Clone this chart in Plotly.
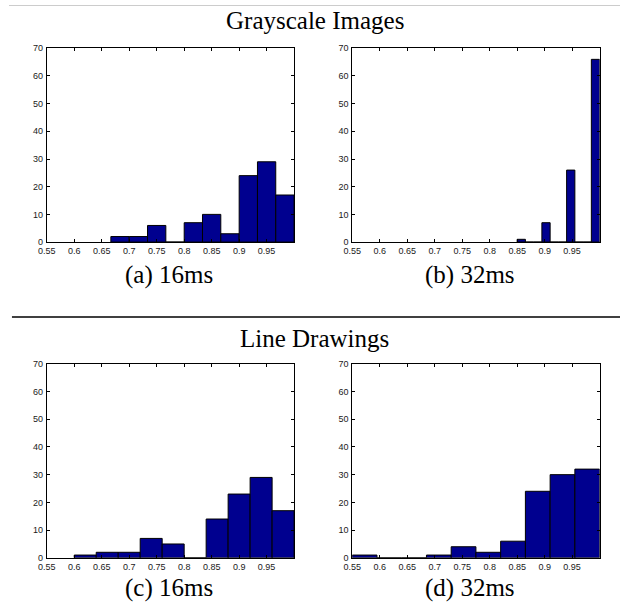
import plotly.graph_objects as go

# ---- data (histogram bin centres, bin widths, counts) ----
a_centers = [0.6833, 0.7167, 0.75, 0.7833, 0.8167, 0.85, 0.8833, 0.9167, 0.95, 0.9833]
a_width = 0.0333
a_counts = [2, 2, 6, 0, 7, 10, 3, 24, 29, 17]

b_centers = [0.8575, 0.8725, 0.8875, 0.9025, 0.9175, 0.9325, 0.9475, 0.9625, 0.9775, 0.9925]
b_width = 0.015
b_counts = [1, 0, 0, 7, 0, 0, 26, 0, 0, 66]

c_centers = [0.62, 0.66, 0.70, 0.74, 0.78, 0.82, 0.86, 0.90, 0.94, 0.98]
c_width = 0.04
c_counts = [1, 2, 2, 7, 5, 0, 14, 23, 29, 17]

d_centers = [0.5725, 0.6175, 0.6625, 0.7075, 0.7525, 0.7975, 0.8425, 0.8875, 0.9325, 0.9775]
d_width = 0.045
d_counts = [1, 0, 0, 1, 4, 2, 6, 24, 30, 32]

x_ticks = [0.55, 0.6, 0.65, 0.7, 0.75, 0.8, 0.85, 0.9, 0.95]
x_tick_labels = ["0.55", "0.6", "0.65", "0.7", "0.75", "0.8", "0.85", "0.9", "0.95"]
y_ticks = [0, 10, 20, 30, 40, 50, 60, 70]

section_titles = ["Grayscale Images", "Line Drawings"]
captions = ["(a) 16ms", "(b) 32ms", "(c) 16ms", "(d) 32ms"]

# ---- layout geometry ----
W, H = 620, 613
def py(px):
    return 1 - px / H
def pxx(px):
    return px / W

panels = [
    (a_centers, a_width, a_counts, (38.3, 289.3), (44, 241)),
    (b_centers, b_width, b_counts, (348.3, 599.3), (44, 241)),
    (c_centers, c_width, c_counts, (38.3, 289.3), (364.7, 562)),
    (d_centers, d_width, d_counts, (348.3, 599.3), (364.7, 562)),
]

BAR_COLOR = "#00008F"
fig = go.Figure()
layout = dict(
    width=W, height=H,
    margin=dict(l=0, r=0, t=0, b=0),
    paper_bgcolor="white", plot_bgcolor="white",
    showlegend=False,
)
tick_font = dict(family="Liberation Sans, Arial, sans-serif", size=9, color="#1a1a1a")

for i, (cx, w, cnt, (x0, x1), (y0, y1)) in enumerate(panels):
    n = "" if i == 0 else str(i + 1)
    fig.add_trace(go.Bar(
        x=cx, y=cnt, width=w,
        marker=dict(color=BAR_COLOR, line=dict(color="black", width=1)),
        xaxis="x" + n, yaxis="y" + n,
    ))
    layout["xaxis" + n] = dict(
        domain=[pxx(x0), pxx(x1)], range=[0.55, 1.0], anchor="y" + n,
        tickvals=x_ticks, ticktext=x_tick_labels, ticks="inside", ticklen=3,
        tickcolor="black", showline=True, linecolor="black", linewidth=1,
        mirror="ticks", showgrid=False, zeroline=False, tickfont=tick_font,
        fixedrange=True, ticklabelstandoff=0,
    )
    layout["yaxis" + n] = dict(
        domain=[py(y1), py(y0)], range=[0, 70], anchor="x" + n,
        tickvals=y_ticks, ticks="inside", ticklen=3, tickcolor="black",
        showline=True, linecolor="black", linewidth=1, mirror="ticks",
        showgrid=False, zeroline=False, tickfont=tick_font, fixedrange=True,
        ticklabelstandoff=1,
    )

serif = "Liberation Serif, Times New Roman, serif"
annotations = [
    dict(text=section_titles[0], x=0.5, y=py(16), xref="paper", yref="paper",
         showarrow=False, font=dict(family=serif, size=25, color="black"),
         xanchor="center", yanchor="middle"),
    dict(text=section_titles[1], x=0.5, y=py(339), xref="paper", yref="paper",
         showarrow=False, font=dict(family=serif, size=25, color="black"),
         xanchor="center", yanchor="middle"),
]
cap_pos = [(162.5, 274), (468, 274), (162.5, 593), (468, 593)]
for cap, (cxp, cyp) in zip(captions, cap_pos):
    annotations.append(dict(text=cap, x=pxx(cxp), y=py(cyp), xref="paper", yref="paper",
                            showarrow=False, font=dict(family=serif, size=25, color="black"),
                            xanchor="center", yanchor="middle"))
layout["annotations"] = annotations
layout["shapes"] = [
    dict(type="line", xref="paper", yref="paper", x0=0, x1=1, y0=py(0.5), y1=py(0.5),
         line=dict(color="#cccccc", width=1)),
    dict(type="line", xref="paper", yref="paper", x0=pxx(3), x1=1, y0=py(317.3), y1=py(317.3),
         line=dict(color="black", width=1.5)),
]
fig.update_layout(**layout)
fig.write_html(
    "out.html",
    config={"displayModeBar": False},
    post_script="document.body.style.margin='0';document.body.style.overflow='hidden';",
)
